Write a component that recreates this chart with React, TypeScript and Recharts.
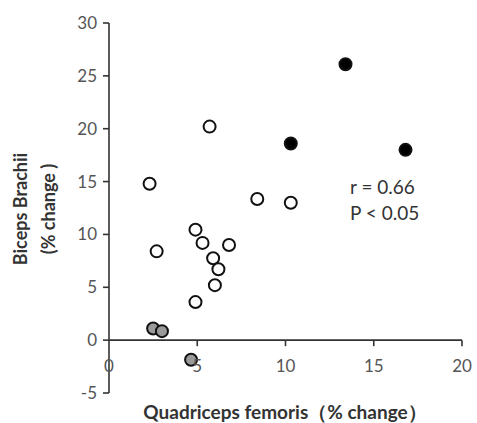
import { ScatterChart, Scatter, XAxis, YAxis, ReferenceLine } from "recharts";

// filled black: high responders
const blackPts = [
  { x: 13.4, y: 26.1 },
  { x: 10.3, y: 18.6 },
  { x: 16.8, y: 18.0 },
];

const openPts = [
  { x: 5.7, y: 20.2 },
  { x: 2.3, y: 14.8 },
  { x: 8.4, y: 13.35 },
  { x: 10.3, y: 13.0 },
  { x: 4.9, y: 10.45 },
  { x: 5.3, y: 9.2 },
  { x: 6.8, y: 9.0 },
  { x: 2.7, y: 8.4 },
  { x: 5.9, y: 7.75 },
  { x: 6.2, y: 6.7 },
  { x: 6.0, y: 5.2 },
  { x: 4.9, y: 3.6 },
];

const grayPts = [
  { x: 2.5, y: 1.1 },
  { x: 3.0, y: 0.85 },
  { x: 4.65, y: -1.85 },
];

const xTicks = [0, 5, 10, 15, 20];
const yTicks = [-5, 0, 5, 10, 15, 20, 25, 30];
const xDomain = [0, 20];
const yDomain = [-5, 30];

const W = 477;
const H = 423;
const M = { top: 23, right: 15, bottom: 0, left: 0 };
const Y_AXIS_W = 109;
const X_AXIS_H = 30;
const PLOT_H = H - M.top - M.bottom - X_AXIS_H;
// pixel row of y = 0, where the x axis crosses
const Y0 = M.top + (PLOT_H * (yDomain[1] - 0)) / (yDomain[1] - yDomain[0]);

const AXIS = "#333";
const FONT = "Lato, 'Open Sans', sans-serif";

const XTick = (props: any) => {
  const { x, payload } = props;
  return (
    <g>
      {payload.value !== 0 && (
        <line x1={x} x2={x} y1={Y0} y2={Y0 + 6} stroke={AXIS} strokeWidth={1.6} />
      )}
      <text x={x} y={Y0 + 32} textAnchor="middle" fill="#555" fontSize={17} fontFamily={FONT}>
        {payload.value}
      </text>
    </g>
  );
};

const dot = (fill: string) => (p: any) => (
  <circle cx={p.cx} cy={p.cy} r={6} fill={fill} stroke="#111" strokeWidth={2} />
);

export default function App() {
  return (
    <div style={{ position: "absolute", left: 0, top: 0, width: W, height: H, background: "#fff" }}>
      <ScatterChart width={W} height={H} margin={M}>
        <XAxis
          type="number"
          dataKey="x"
          domain={xDomain}
          ticks={xTicks}
          height={X_AXIS_H}
          axisLine={false}
          tickLine={false}
          tick={<XTick />}
        />
        <YAxis
          type="number"
          dataKey="y"
          domain={yDomain}
          ticks={yTicks}
          width={Y_AXIS_W}
          axisLine={{ stroke: AXIS, strokeWidth: 1.6 }}
          tickLine={{ stroke: AXIS, strokeWidth: 1.6 }}
          tick={{ fill: "#555", fontSize: 17, fontFamily: FONT }}
          tickMargin={6}
        />
        <ReferenceLine y={0} stroke={AXIS} strokeWidth={1.6} />
        <Scatter data={openPts} fill="#fff" shape={dot("#fff")} isAnimationActive={false} />
        <Scatter data={grayPts} fill="#999" shape={dot("#9a9a9a")} isAnimationActive={false} />
        <Scatter data={blackPts} fill="#000" shape={dot("#000")} isAnimationActive={false} />
      </ScatterChart>
      <div
        style={{
          position: "absolute",
          left: 34,
          top: 209,
          transform: "translate(-50%, -50%) rotate(-90deg)",
          textAlign: "center",
          fontFamily: FONT,
          fontWeight: 700,
          fontSize: 18,
          lineHeight: "28px",
          color: "#333",
          whiteSpace: "nowrap",
        }}
      >
        Biceps Brachii
        <br />
        (% change )
      </div>
      <div
        style={{
          position: "absolute",
          left: 285,
          top: 413,
          transform: "translate(-50%, -50%)",
          fontFamily: FONT,
          fontWeight: 700,
          fontSize: 19,
          color: "#333",
          whiteSpace: "nowrap",
        }}
      >
        Quadriceps femoris（% change）
      </div>
      <div
        style={{
          position: "absolute",
          left: 350,
          top: 174,
          fontFamily: FONT,
          fontSize: 19,
          lineHeight: "26px",
          color: "#333",
          whiteSpace: "nowrap",
        }}
      >
        r = 0.66
        <br />P &lt; 0.05
      </div>
    </div>
  );
}
